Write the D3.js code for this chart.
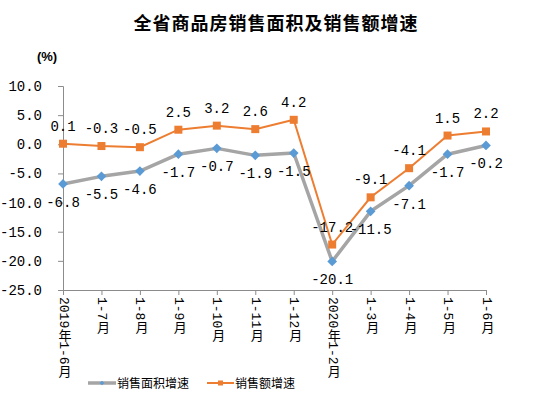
<!DOCTYPE html>
<html>
<head>
<meta charset="utf-8">
<script src="https://cdn.jsdelivr.net/npm/d3@7"></script>
<style>
  body { margin: 0; background: #fff; }
  svg text { font-family: "Liberation Mono", "Noto Sans CJK SC", monospace; }
  .xlab { writing-mode: vertical-rl; }
</style>
</head>
<body>
<div id="chart"></div>
<script>
// categories and series
const categories = ["2019年1-6月", "1-7月", "1-8月", "1-9月", "1-10月", "1-11月", "1-12月",
  "2020年1-2月", "1-3月", "1-4月", "1-5月", "1-6月"];
const areaGrowth = [-6.8, -5.5, -4.6, -1.7, -0.7, -1.9, -1.5, -20.1, -11.5, -7.1, -1.7, -0.2];
const salesGrowth = [0.1, -0.3, -0.5, 2.5, 3.2, 2.6, 4.2, -17.2, -9.1, -4.1, 1.5, 2.2];
const yTicks = [10, 5, 0, -5, -10, -15, -20, -25];

const width = 552, height = 396;
const margin = { top: 86, left: 63, right: 66, bottom: 106 };

const svg = d3.select("#chart").append("svg")
  .attr("width", width)
  .attr("height", height);

// title
svg.append("text")
  .attr("x", 276)
  .attr("y", 30)
  .attr("text-anchor", "middle")
  .style("font-family", "'Noto Sans CJK SC'")
  .style("font-size", "18px")
  .style("font-weight", "bold")
  .style("letter-spacing", "1px")
  .text("全省商品房销售面积及销售额增速");

svg.append("text")
  .attr("x", 47)
  .attr("y", 61)
  .attr("text-anchor", "middle")
  .style("font-family", "'Liberation Sans'")
  .style("font-size", "13px")
  .style("font-weight", "bold")
  .text("(%)");

const x = d3.scalePoint()
  .domain(d3.range(categories.length))
  .range([margin.left, width - margin.right]);

const y = d3.scaleLinear()
  .domain([-25, 10])
  .range([height - margin.bottom, margin.top]);

const axisColor = "#8c8c8c";

// y axis
const yAxis = svg.append("g")
  .attr("transform", "translate(" + margin.left + ",0)")
  .call(d3.axisLeft(y).tickValues(yTicks).tickSize(5).tickPadding(16).tickFormat(d3.format(".1f")));
yAxis.select(".domain").attr("stroke", axisColor);
yAxis.selectAll(".tick line").attr("stroke", axisColor);
yAxis.selectAll(".tick text")
  .style("font-size", "14px")
  .attr("fill", "#000")
  .text(d => d.toFixed(1));

// x axis
const xAxis = svg.append("g")
  .attr("transform", "translate(0," + y(-25) + ")")
  .call(d3.axisBottom(x).tickSize(5).tickFormat(""));
xAxis.select(".domain").attr("stroke", axisColor);
xAxis.selectAll(".tick line").attr("stroke", axisColor);

svg.append("g")
  .selectAll("text")
  .data(categories)
  .enter()
  .append("text")
  .attr("class", "xlab")
  .attr("x", (d, i) => x(i))
  .attr("y", y(-25) + 7)
  .style("font-size", "13px")
  .attr("fill", "#000")
  .text(d => d);

const line = d3.line()
  .x((d, i) => x(i))
  .y(d => y(d));

// area growth: grey line, blue diamonds
svg.append("path")
  .datum(areaGrowth)
  .attr("fill", "none")
  .attr("stroke", "#a5a5a5")
  .attr("stroke-width", 3.5)
  .attr("stroke-linejoin", "round")
  .attr("d", line);

// sales growth: orange line, squares
svg.append("path")
  .datum(salesGrowth)
  .attr("fill", "none")
  .attr("stroke", "#ed7d31")
  .attr("stroke-width", 2)
  .attr("d", line);

const diamond = d3.symbol().type(d3.symbolDiamond2).size(60);

svg.append("g")
  .selectAll("path")
  .data(areaGrowth)
  .enter()
  .append("path")
  .attr("d", diamond)
  .attr("transform", (d, i) => "translate(" + x(i) + "," + y(d) + ")")
  .attr("fill", "#5b9bd5");

svg.append("g")
  .selectAll("rect")
  .data(salesGrowth)
  .enter()
  .append("rect")
  .attr("x", (d, i) => x(i) - 4)
  .attr("y", d => y(d) - 4)
  .attr("width", 8)
  .attr("height", 8)
  .attr("fill", "#ed7d31");

// value labels
svg.append("g")
  .selectAll("text")
  .data(areaGrowth)
  .enter()
  .append("text")
  .attr("x", (d, i) => x(i))
  .attr("y", d => y(d) + 23)
  .attr("text-anchor", "middle")
  .style("font-size", "14px")
  .text(d => d.toFixed(1));

svg.append("g")
  .selectAll("text")
  .data(salesGrowth)
  .enter()
  .append("text")
  .attr("x", (d, i) => x(i))
  .attr("y", d => y(d) - 13)
  .attr("text-anchor", "middle")
  .style("font-size", "14px")
  .text(d => d.toFixed(1));

// legend
const legend = svg.append("g").attr("transform", "translate(0,383)");
legend.append("line")
  .attr("x1", 88).attr("x2", 116)
  .attr("stroke", "#a5a5a5").attr("stroke-width", 3.5);
legend.append("path")
  .attr("d", d3.symbol().type(d3.symbolDiamond2).size(14))
  .attr("transform", "translate(102,0)")
  .attr("fill", "#5b9bd5");
legend.append("text")
  .attr("x", 117).attr("y", 5)
  .style("font-family", "'Noto Sans CJK SC'")
  .style("font-size", "12px")
  .text("销售面积增速");

legend.append("line")
  .attr("x1", 207).attr("x2", 234)
  .attr("stroke", "#ed7d31").attr("stroke-width", 2);
legend.append("rect")
  .attr("x", 218).attr("y", -2.5)
  .attr("width", 5).attr("height", 5)
  .attr("fill", "#ed7d31");
legend.append("text")
  .attr("x", 235).attr("y", 5)
  .style("font-family", "'Noto Sans CJK SC'")
  .style("font-size", "12px")
  .text("销售额增速");
</script>
</body>
</html>
